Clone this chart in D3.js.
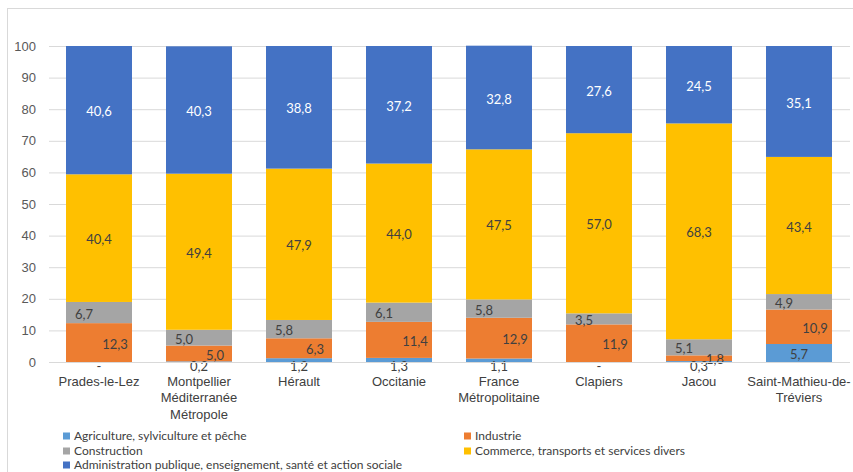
<!DOCTYPE html>
<html><head><meta charset="utf-8">
<script src="https://cdn.jsdelivr.net/npm/d3@7"></script>
<style>
body{margin:0;background:#fff;}
svg{display:block;font-family:Lato, "Open Sans", sans-serif;}
</style></head>
<body><svg id="c" width="853" height="472"></svg>
<script>
const categories = ["Prades-le-Lez","Montpellier Méditerranée Métropole","Hérault","Occitanie","France Métropolitaine","Clapiers","Jacou","Saint-Mathieu-de-Tréviers"];
const tickLines = [["Prades-le-Lez"],["Montpellier","Méditerranée","Métropole"],["Hérault"],["Occitanie"],["France","Métropolitaine"],["Clapiers"],["Jacou"],["Saint-Mathieu-de-","Tréviers"]];
const seriesNames = ["Agriculture, sylviculture et pêche","Industrie","Construction","Commerce, transports et services divers","Administration publique, enseignement, santé et action sociale"];
const agriculture = [0, 0.2, 1.2, 1.3, 1.1, 0, 0.3, 5.7];
const industrie = [12.3, 5.0, 6.3, 11.4, 12.9, 11.9, 1.8, 10.9];
const construction = [6.7, 5.0, 5.8, 6.1, 5.8, 3.5, 5.1, 4.9];
const commerce = [40.4, 49.4, 47.9, 44.0, 47.5, 57.0, 68.3, 43.4];
const administration = [40.6, 40.3, 38.8, 37.2, 32.8, 27.6, 24.5, 35.1];
const yTicks = [0,10,20,30,40,50,60,70,80,90,100];

const colors = ["#5B9BD5","#ED7D31","#A5A5A5","#FFC000","#4472C4"];
const labelColors = ["#404040","#404040","#404040","#404040","#ffffff"];
const labelDx = [0, 16, -15, 0, 0];

const seriesVals = [agriculture, industrie, construction, commerce, administration];
const keys = seriesNames;
const rows = categories.map((c,i)=>{ const o={cat:c}; keys.forEach((k,j)=>o[k]=seriesVals[j][i]); return o; });

const svg = d3.select("#c");
const W=853,H=472;
svg.append("rect").attr("x",7.5).attr("y",8.5).attr("width",W).attr("height",H).attr("fill","none").attr("stroke","#d9d9d9");

const x = d3.scaleBand().domain(categories).range([49,849]).paddingInner(0.34).paddingOuter(0.17);
const y = d3.scaleLinear().domain([0,100]).range([362,46]);

const ya = svg.append("g").attr("transform","translate(49,0)")
  .call(d3.axisLeft(y).tickValues(yTicks).tickSize(-801).tickPadding(13).tickFormat(d3.format("d")));
ya.select(".domain").remove();
ya.selectAll(".tick line").attr("stroke","#d9d9d9");
ya.selectAll(".tick text").attr("fill","#595959").style("font-size","13px");

const stack = d3.stack().keys(keys)(rows);

const g = svg.append("g");
stack.forEach((s,si)=>{
  g.selectAll(null).data(s).join("rect")
    .attr("x",d=>x(d.data.cat)).attr("width",x.bandwidth())
    .attr("y",d=>y(d[1])).attr("height",d=>Math.max(0,y(d[0])-y(d[1])))
    .attr("fill",colors[si]);
});

svg.append("line").attr("x1",49).attr("x2",850).attr("y1",y(0)+0.5).attr("y2",y(0)+0.5).attr("stroke","#d9d9d9");

const fmt = v => v===0 ? "-" : d3.format(".1f")(v).replace(".",",");
stack.forEach((s,si)=>{
  g.selectAll(null).data(s).join("text")
    .attr("x",d=>x(d.data.cat)+x.bandwidth()/2+labelDx[si])
    .attr("y",d=>{
      const v=d[1]-d[0];
      if(si===0 && v<3) return y(0)+4;
      return (y(d[0])+y(d[1]))/2+1.5;
    })
    .attr("dy","0.35em").attr("text-anchor","middle")
    .attr("fill",d=>(si===0 && (d[1]-d[0])<3)?"#404040":labelColors[si])
    .style("font-size","13px")
    .text(d=>fmt(d[1]-d[0]));
});

const xa = svg.append("g").attr("transform",`translate(0,${y(0)})`)
  .call(d3.axisBottom(x).tickSize(0).tickPadding(0).tickFormat(""));
xa.select(".domain").remove();
xa.selectAll(".tick").each(function(d,i){
  const t=d3.select(this).append("text").attr("fill","#404040").attr("text-anchor","middle").style("font-size","13px");
  tickLines[i].forEach((ln,k)=>t.append("tspan").attr("x",0).attr("y",19+k*16.5).attr("dy","0.35em").text(ln));
});

const legPos = [[63,436],[464,436],[63,451],[464,451],[63,465]];
const lg = svg.append("g");
seriesNames.forEach((n,i)=>{
  const [lx,ly]=legPos[i];
  lg.append("rect").attr("x",lx).attr("y",ly-3.5).attr("width",7).attr("height",7).attr("fill",colors[i]);
  lg.append("text").attr("x",lx+11).attr("y",ly).attr("dy","0.35em").attr("fill","#404040").style("font-size","12px").text(n);
});
</script></body></html>
